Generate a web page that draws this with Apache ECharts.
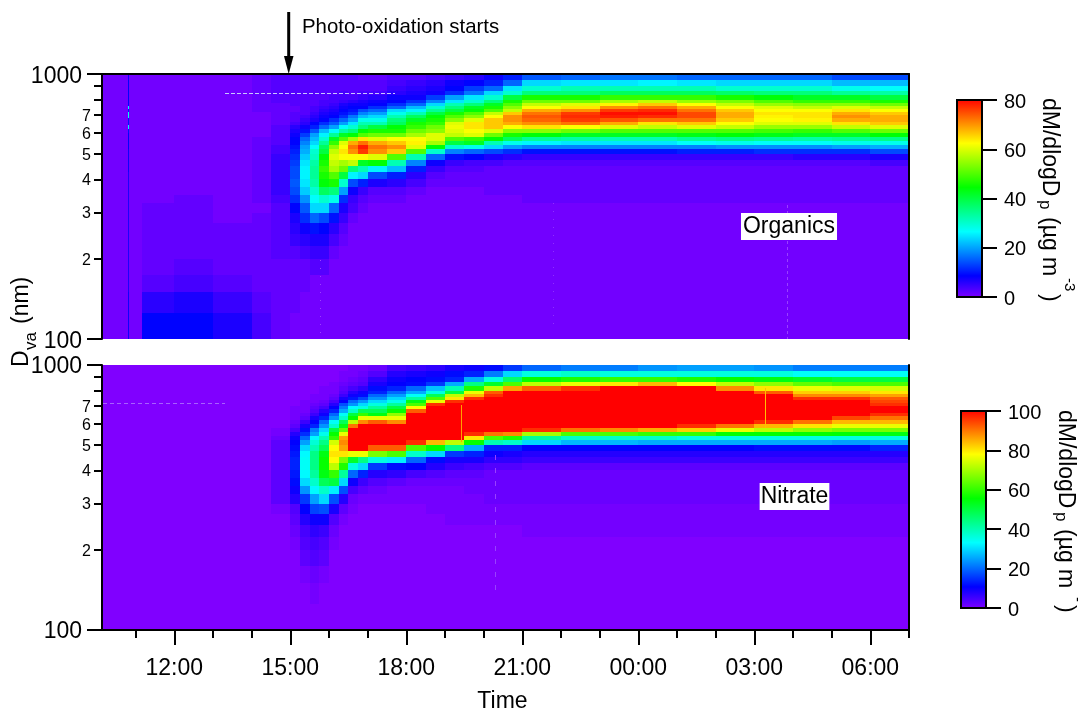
<!DOCTYPE html>
<html><head><meta charset="utf-8">
<style>html,body{margin:0;padding:0;background:#fff}#c{width:1082px;height:710px}</style>
<script src="https://cdn.jsdelivr.net/npm/echarts@6/dist/echarts.min.js"></script>
</head><body><div id="c"></div>
<script>
// Hours since midnight of the first day (24 = 00:00, 27 = 03:00 ...)
const timeEdges = [10.13,10.8,10.83,11.17,12,13,14,14.5,15,15.25,15.5,15.75,16,16.25,16.5,16.75,17,17.5,18,18.5,19,19.5,20,20.5,21,22,23,24,25,26,27,28,29,30,31];
// Vacuum aerodynamic diameter bin edges (nm)
const sizeEdges = [100,125,150,175,200,225,250,275,300,325,350,375,400,425,450,475,500,520,540,560,580,600,620,640,660,680,700,720,740,760,780,800,830,860,900,950,1000];
const majorTimeHours = [12,15,18,21,24,27,30];
const minorTimeHours = [11,13,14,16,17,19,20,22,23,25,26,28,29,31];
const timeLabels = ['12:00','15:00','18:00','21:00','00:00','03:00','06:00'];
const majorSizes = [100,1000];
const minorSizes = [200,300,400,500,600,700,800,900];
const minorSizeLabels = [200,300,400,500,600,700];
// One list per time column, bottom row (100 nm) to top row (1000 nm)
const organicsColumns = [
[1,1,1,1,1,1, 1,1,1,1,1,1, 1,1,1,1,1,1, 1,1,1,1,1,1, 1,1,1,1,1,1, 1,1,1,1,1,1],
[8,8,7,7,7,7, 7,7,7,7,7,7, 7,8,8,8,8,9, 9,9,9,10,26,10, 10,28,28,10,26,9, 9,9,9,9,9,8],
[1,1,1,1,1,1, 1,1,1,1,1,1, 1,1,1,1,1,1, 1,1,1,1,1,1, 1,1,1,1,1,1, 1,1,1,1,1,1],
[9,6,3,2,2,2, 2,2,2,1,1,1, 1,1,1,1,1,1, 1,1,1,1,1,1, 1,1,1,1,1,1, 1,1,1,1,1,1],
[9,7,4,3,2,2, 2,2,2,2,1,1, 1,1,1,1,1,1, 1,1,1,1,1,1, 1,1,1,1,1,1, 1,1,1,1,1,1],
[7,5,3,2,2,2, 2,1,1,1,1,1, 1,1,1,1,1,1, 1,1,1,1,1,1, 1,1,1,1,1,1, 1,1,1,1,1,1],
[4,3,2,2,2,2, 2,2,1,2,2,2, 2,2,2,2,2,2, 2,2,1,1,1,1, 1,1,1,2,2,2, 2,2,2,2,2,2],
[2,2,2,2,3,3, 3,3,3,4,5,5, 5,5,5,5,4,4, 3,3,3,3,3,2, 2,2,2,2,2,2, 3,3,3,3,3,3],
[1,2,2,2,3,5, 6,7,9,12,14,15, 14,14,13,12,11,10, 9,9,8,7,6,4, 3,3,3,2,2,3, 3,3,3,3,3,3],
[1,1,2,2,4,6, 8,12,15,19,23,25, 26,26,25,23,21,20, 18,16,13,10,8,6, 5,4,3,3,3,3, 3,3,3,3,3,3],
[1,1,1,3,5,7, 10,16,24,27,30,33, 34,34,33,31,30,27, 24,22,20,15,11,9, 7,6,5,4,4,3, 3,3,3,3,3,3],
[1,1,1,3,5,7, 9,14,24,30,38,44, 46,48,46,44,40,38, 34,30,26,22,16,12, 9,8,7,6,5,4, 4,3,3,3,3,3],
[1,1,1,1,2,4, 6,10,16,28,36,46, 50,56,58,60,58,54, 48,42,34,27,20,15, 12,9,8,7,6,5, 4,4,3,3,3,3],
[1,1,1,1,1,2, 3,5,7,12,20,30, 40,52,56,62,64,62, 60,50,42,33,27,20, 16,12,10,9,8,7, 5,4,4,3,3,3],
[1,1,1,1,1,1, 1,2,4,5,8,14, 26,36,58,62,70,72, 68,56,44,36,30,25, 20,17,12,10,9,8, 6,4,3,3,3,3],
[1,1,1,1,1,1, 1,1,2,3,5,11, 24,32,42,62,76,78, 72,64,50,44,36,32, 28,22,18,14,9,8, 7,5,4,3,3,2],
[1,1,1,1,1,1, 1,1,1,2,3,7, 14,26,44,60,70,72, 68,60,52,46,40,32, 28,24,20,16,12,9, 8,6,4,3,3,2],
[1,1,1,1,1,1, 1,1,1,2,3,6, 11,22,32,50,66,70, 66,62,52,46,44,38, 36,32,28,24,16,12, 9,8,6,5,4,3],
[1,1,1,1,1,1, 1,1,1,1,2,4, 6,11,18,32,50,60, 63,62,56,52,48,46, 42,38,32,26,22,16, 12,8,7,6,5,3],
[1,1,1,1,1,1, 1,1,1,1,1,2, 3,5,8,16,30,44, 56,60,60,54,52,48, 46,44,40,34,30,24, 18,13,8,7,6,4],
[1,1,1,1,1,1, 1,1,1,1,1,2, 2,3,5,10,18,30, 40,50,58,60,61,60, 54,50,46,40,36,32, 25,20,12,9,8,5],
[1,1,1,1,1,1, 1,1,1,1,1,2, 2,3,4,9,16,28, 42,48,60,62,64,64, 60,54,50,44,42,36, 30,25,17,13,9,6],
[1,1,1,1,1,1, 1,1,1,1,2,2, 2,2,4,7,14,24, 32,44,52,60,66,66, 66,62,58,50,46,42, 36,30,24,16,11,8],
[1,1,1,1,1,1, 1,1,1,1,2,2, 2,2,3,6,12,20, 28,38,46,54,62,68, 70,70,66,58,54,50, 46,40,30,25,16,11],
[1,1,1,1,1,1, 1,1,1,2,2,2, 2,2,3,5,10,18, 26,34,44,54,64,70, 73,74,72,68,62,58, 52,46,36,30,24,15],
[1,1,1,1,1,1, 1,1,1,2,2,2, 2,2,3,5,10,18, 25,33,42,52,62,72, 76,77,76,70,64,60, 52,46,36,32,25,16],
[1,1,1,1,1,1, 1,1,1,2,2,2, 2,2,3,5,10,18, 25,32,42,50,60,68, 74,78,79,76,70,63, 56,48,38,32,25,17],
[1,1,1,1,1,1, 1,1,1,2,2,2, 2,2,3,5,10,18, 25,32,42,50,58,64, 72,77,79,77,72,66, 58,48,38,32,26,17],
[1,1,1,1,1,1, 1,1,1,2,2,2, 2,2,3,5,11,18, 27,34,43,50,60,66, 72,75,75,72,68,62, 55,48,38,32,25,16],
[1,1,1,1,1,1, 1,1,1,2,2,2, 2,2,3,5,11,19, 28,35,44,50,58,62, 66,68,68,66,62,58, 53,46,37,30,24,16],
[1,1,1,1,1,1, 1,1,1,2,2,2, 2,2,3,5,12,19, 27,34,43,49,55,60, 62,63,64,62,60,55, 50,44,36,30,24,16],
[1,1,1,1,1,1, 1,1,1,2,2,2, 2,2,3,6,12,19, 27,33,42,48,55,60, 63,64,64,62,58,54, 48,42,36,30,24,16],
[1,1,1,1,1,1, 1,1,1,2,2,2, 2,2,3,6,12,20, 28,34,42,50,58,64, 68,70,68,64,60,54, 48,42,34,28,22,14],
[1,1,1,1,1,1, 1,1,1,2,2,2, 2,2,4,7,14,21, 28,35,44,52,60,66, 68,68,66,62,58,52, 46,40,33,27,22,14]
];
const nitrateColumns = [
[0,0,0,0,0,0, 0,0,0,0,0,0, 0,0,0,0,0,0, 0,0,0,0,0,0, 0,0,0,0,0,0, 0,0,0,0,0,0],
[0,0,0,0,0,0, 0,0,0,0,0,0, 0,0,0,0,0,0, 0,0,0,0,0,0, 0,0,0,0,0,0, 0,0,0,0,0,0],
[0,0,0,0,0,0, 0,0,0,0,0,0, 0,0,0,0,0,0, 0,0,0,0,0,0, 0,0,0,0,0,0, 0,0,0,0,0,0],
[0,0,0,0,0,0, 0,0,0,0,0,0, 0,0,0,0,0,0, 0,0,0,0,0,0, 0,0,0,0,0,0, 0,0,0,0,0,0],
[0,0,0,0,0,0, 0,0,0,0,0,0, 0,0,0,0,0,0, 0,0,0,0,0,0, 0,0,0,0,0,0, 0,0,0,0,0,0],
[0,0,0,0,0,0, 0,0,0,0,0,0, 0,0,0,0,0,0, 0,0,0,0,0,0, 0,0,0,0,0,0, 0,0,0,0,0,0],
[0,0,0,0,0,0, 0,0,0,0,0,0, 0,0,0,0,0,0, 0,0,0,0,0,0, 0,0,0,0,0,0, 0,0,0,0,0,0],
[0,0,0,0,0,0, 0,1,3,3,3,3, 3,3,3,3,3,2, 1,1,0,0,0,0, 0,0,0,0,0,0, 0,0,0,0,0,0],
[0,0,0,0,1,2, 3,4,8,10,12,13, 14,14,13,12,11,10, 8,5,3,2,1,1, 1,1,0,0,0,0, 0,0,0,0,0,0],
[0,0,1,3,4,5, 8,11,16,24,30,33, 34,34,33,30,25,20, 15,12,9,6,3,2, 1,1,1,1,0,0, 0,0,0,0,0,0],
[0,1,2,4,5,7, 10,17,25,33,38,42, 44,44,44,40,37,33, 25,22,14,11,9,6, 4,3,2,1,1,1, 0,0,0,0,0,0],
[0,0,1,3,4,6, 10,18,30,38,48,54, 56,56,54,48,44,40, 35,30,24,20,14,10, 8,5,3,2,1,1, 1,1,0,0,0,0],
[0,0,0,0,1,2, 4,9,18,32,50,60, 72,78,80,78,74,60, 56,50,38,34,24,20, 14,11,8,5,3,2, 1,1,1,0,0,0],
[0,0,0,0,0,0, 1,3,8,18,30,42, 58,66,80,86,88,86, 76,64,54,48,38,34, 26,22,18,11,9,6, 4,3,2,1,1,0],
[0,0,0,0,0,0, 0,1,2,5,10,20, 36,52,76,100,100,100, 100,100,90,72,56,50, 38,33,24,20,13,10, 8,5,3,2,1,1],
[0,0,0,0,0,0, 0,0,1,3,6,14, 30,44,76,100,100,100, 100,100,100,88,76,60, 48,36,30,24,17,12, 10,7,4,3,2,1],
[0,0,0,0,0,0, 0,0,1,2,4,8, 16,36,66,92,100,100, 100,100,100,92,76,54, 48,42,36,30,24,20, 14,12,9,7,4,2],
[0,0,0,0,0,0, 0,0,1,1,3,7, 12,32,62,92,100,100, 100,100,100,88,76,68, 56,50,42,35,30,25, 20,14,11,10,8,5],
[0,0,0,0,0,0, 0,0,1,1,2,5, 11,20,38,62,96,100, 100,100,100,100,100,100, 92,78,62,54,42,34, 26,20,12,11,9,6],
[0,0,0,0,0,0, 0,1,1,1,2,4, 8,12,30,56,84,100, 100,100,100,100,100,100, 100,100,96,76,62,48, 36,28,16,12,10,7],
[0,0,0,0,0,0, 1,1,1,1,2,3, 6,9,16,44,72,100, 100,100,100,100,100,100, 100,100,100,96,80,72, 50,40,26,14,12,9],
[0,0,0,0,0,0, 1,1,1,2,2,3, 5,9,14,26,56,80, 96,100,100,100,100,100, 100,100,100,100,96,84, 76,58,44,26,14,10],
[0,0,0,0,0,0, 1,1,2,2,2,2, 4,7,10,14,40,62, 90,100,100,100,100,100, 100,100,100,100,100,96, 92,72,52,36,22,12],
[0,0,0,0,0,0, 1,1,2,2,2,2, 4,7,9,14,38,58, 88,100,100,100,100,100, 100,100,100,100,100,100, 100,86,62,46,30,16],
[0,0,0,0,0,1, 1,1,2,2,2,2, 3,6,8,11,30,42, 70,96,100,100,100,100, 100,100,100,100,100,100, 100,92,72,56,36,20],
[0,0,0,0,0,1, 1,1,2,2,2,2, 3,6,8,11,27,38, 62,90,100,100,100,100, 100,100,100,100,100,100, 100,96,76,58,38,22],
[0,0,0,0,0,1, 1,1,2,2,2,2, 3,6,8,11,27,38, 62,88,100,100,100,100, 100,100,100,100,100,100, 100,100,80,60,36,22],
[0,0,0,0,0,1, 1,1,2,2,2,2, 3,6,8,11,26,38, 60,85,100,100,100,100, 100,100,100,100,100,100, 100,100,84,60,36,24],
[0,0,0,0,0,1, 1,1,2,2,2,2, 3,6,8,11,26,36, 60,82,96,100,100,100, 100,100,100,100,100,100, 100,100,78,58,36,25],
[0,0,0,0,0,1, 1,1,2,2,2,2, 3,6,8,11,26,36, 56,76,90,100,100,100, 100,100,100,100,100,100, 100,88,72,56,36,25],
[0,0,0,0,0,1, 1,1,2,2,2,2, 3,6,8,12,26,36, 56,72,84,96,100,100, 100,100,100,100,100,100, 92,80,68,54,36,24],
[0,0,0,0,0,1, 1,1,2,2,2,2, 3,6,8,12,26,36, 56,68,80,90,100,100, 100,100,100,100,96,88, 82,76,64,52,34,22],
[0,0,0,0,0,1, 1,1,2,2,2,2, 3,6,8,12,25,36, 55,66,76,84,94,100, 100,100,100,100,96,88, 82,75,62,50,34,22],
[0,0,0,0,0,1, 1,1,2,2,2,2, 3,6,8,14,26,36, 54,66,76,84,90,96, 100,100,96,94,92,86, 80,74,62,50,34,22]
];
const rainbow = ['#8000ff','#0000ff','#0080ff','#00ffff','#00ff80','#00ff00','#80ff00','#ffff00','#ff8000','#ff0000'];
const organicsMax = 80, nitrateMax = 100;
const FONT = '"Liberation Sans", Arial, sans-serif';

function cells(columns){
  const out = [];
  columns.forEach((col,t)=>col.forEach((v,r)=>out.push([timeEdges[t],timeEdges[t+1],sizeEdges[r],sizeEdges[r+1],v])));
  return out;
}
function renderCell(params, api){
  const a = api.coord([api.value(0), api.value(3)]);
  const b = api.coord([api.value(1), api.value(2)]);
  const x0 = Math.round(a[0]), x1 = Math.max(Math.round(b[0]), x0+1);
  const y0 = Math.round(a[1]), y1 = Math.round(b[1]);
  return {type:'rect', shape:{x:x0,y:y0,width:x1-x0,height:y1-y0}, style:{fill:api.visual('color')}};
}
function renderBar(params, api){
  const a = api.coord([0, api.value(1)]);
  const b = api.coord([1, api.value(0)]);
  return {type:'rect', shape:{x:a[0],y:a[1],width:b[0]-a[0],height:b[1]-a[1]},
    style:{stroke:'#000',lineWidth:2,fill:new echarts.graphic.LinearGradient(0,1,0,0,
      rainbow.map((c,i)=>({offset:i/(rainbow.length-1),color:c})))}};
}
const line = {show:true,onZero:false,lineStyle:{color:'#000',width:2}};
const noLabel = {show:false}, noTick = {show:false};
function xAxisBase(grid){ return {type:'value',gridIndex:grid,min:10.13,max:31,z:5,splitLine:{show:false},axisLine:line,axisTick:noTick,axisLabel:noLabel}; }
function yAxisSet(grid){
  const base = {type:'log',logBase:10,gridIndex:grid,min:100,max:1000,z:5,splitLine:{show:false},minorTick:{show:false},minorSplitLine:{show:false}};
  return [
    Object.assign({},base,{position:'left',axisLine:line,
      axisTick:{show:true,length:15,inside:false,lineStyle:{color:'#000',width:2},customValues:majorSizes},
      axisLabel:{show:true,margin:20,verticalAlign:'top',lineHeight:grid===0?6:4,color:'#000',fontSize:23,fontFamily:FONT,customValues:majorSizes,formatter:v=>String(Math.round(v))}}),
    Object.assign({},base,{position:'left',axisLine:{show:false,onZero:false},
      axisTick:{show:true,length:8,lineStyle:{color:'#000',width:2},customValues:minorSizes},
      axisLabel:{show:true,margin:11,verticalAlign:'top',lineHeight:3,color:'#000',fontSize:16,fontFamily:FONT,customValues:minorSizeLabels,formatter:v=>String(Math.round(v/100))}}),
    Object.assign({},base,{position:'right',axisLine:line,axisTick:noTick,axisLabel:noLabel})
  ];
}
function cbAxis(grid,max){
  return {type:'value',gridIndex:grid,position:'right',min:0,max:max,interval:20,z:5,splitLine:{show:false},axisLine:{show:false,onZero:false},
    axisTick:{show:true,inside:false,length:15,lineStyle:{color:'#000',width:2}},
    axisLabel:{show:true,margin:22,verticalAlign:'top',lineHeight:4,color:'#000',fontSize:20,fontFamily:FONT}};
}
// Rotated text placed by its baseline; dir=1 reads upward, dir=-1 reads downward
function vtext(str,baseX,y,size,dir){
  return {type:'text',x:baseX-dir*0.34*size,y:y,rotation:dir*Math.PI/2,z:20,
    style:{text:str,font:size+'px '+FONT,fill:'#000',textAlign:'left',textVerticalAlign:'middle'}};
}
function streak(x1,y1,x2,y2,color,dash){
  return {type:'line',z:10,silent:true,shape:{x1,y1,x2,y2},style:{stroke:color,lineWidth:1,lineDash:dash||null}};
}
const gridBase = {outerBoundsMode:'none',containLabel:false};
const option = {
  animation:false,
  backgroundColor:'#fff',
  grid:[
    Object.assign({left:102,top:74,width:807,height:265},gridBase),
    Object.assign({left:102,top:365,width:807,height:265},gridBase),
    Object.assign({left:957,top:100,width:25,height:197},gridBase),
    Object.assign({left:961,top:411,width:25,height:197},gridBase)
  ],
  xAxis:[
    Object.assign(xAxisBase(0),{position:'top'}),
    Object.assign(xAxisBase(1),{position:'bottom',name:'Time',nameLocation:'middle',nameGap:60,
      nameTextStyle:{color:'#000',fontSize:23,fontFamily:FONT,padding:[0,6,0,0]},
      axisTick:{show:true,length:15,lineStyle:{color:'#000',width:2},customValues:majorTimeHours},
      axisLabel:{show:true,margin:27,color:'#000',fontSize:23,fontFamily:FONT,customValues:majorTimeHours,
        formatter:v=>timeLabels[majorTimeHours.indexOf(v)]}}),
    Object.assign(xAxisBase(1),{position:'bottom',axisLine:{show:false,onZero:false},
      axisTick:{show:true,length:8,lineStyle:{color:'#000',width:2},customValues:minorTimeHours}}),
    {type:'value',gridIndex:2,min:0,max:1,show:false},
    {type:'value',gridIndex:3,min:0,max:1,show:false}
  ],
  yAxis:[].concat(yAxisSet(0),yAxisSet(1),[cbAxis(2,organicsMax),cbAxis(3,nitrateMax)]),
  visualMap:[
    {show:false,type:'continuous',seriesIndex:0,dimension:4,min:0,max:organicsMax,inRange:{color:rainbow}},
    {show:false,type:'continuous',seriesIndex:1,dimension:4,min:0,max:nitrateMax,inRange:{color:rainbow}}
  ],
  series:[
    {name:'Organics',type:'custom',xAxisIndex:0,yAxisIndex:0,z:1,clip:true,silent:true,encode:{x:[0,1],y:[2,3]},renderItem:renderCell,data:cells(organicsColumns)},
    {name:'Nitrate',type:'custom',xAxisIndex:1,yAxisIndex:3,z:1,clip:true,silent:true,encode:{x:[0,1],y:[2,3]},renderItem:renderCell,data:cells(nitrateColumns)},
    {name:'Organics scale',type:'custom',xAxisIndex:3,yAxisIndex:6,z:2,silent:true,clip:false,encode:{y:[0,1]},renderItem:renderBar,data:[[0,organicsMax]]},
    {name:'Nitrate scale',type:'custom',xAxisIndex:4,yAxisIndex:7,z:2,silent:true,clip:false,encode:{y:[0,1]},renderItem:renderBar,data:[[0,nitrateMax]]}
  ],
  graphic:[
    streak(225,93.5,395,93.5,'#c8c8ff',[4,2]),
    streak(103,403.5,225,403.5,'#a860ff',[4,3]),
    streak(320.5,260,320.5,333,'#9a40ff',[1,7]),
    streak(553.5,203,553.5,327,'#9030ff',[1,7]),
    streak(787.5,205,787.5,339,'#9a40ff',[3,3]),
    streak(495.5,455,495.5,592,'#9a40ff',[5,8]),
    streak(461.5,405,461.5,442,'#ffa000'),
    streak(765.5,388,765.5,428,'#ffc000'),
    {type:'line',z:20,shape:{x1:288.7,y1:12,x2:288.7,y2:58},style:{stroke:'#000',lineWidth:3}},
    {type:'polygon',z:20,shape:{points:[[284,56],[293.5,56],[288.7,74]]},style:{fill:'#000'}},
    {type:'text',x:302,y:27,z:20,style:{text:'Photo-oxidation starts',font:'20.4px '+FONT,fill:'#000',textAlign:'left',textVerticalAlign:'middle'}},
    {type:'text',x:789,y:226.5,z:20,style:{text:'Organics',font:'23px '+FONT,fill:'#000',backgroundColor:'#fff',padding:[2,2],textAlign:'center',textVerticalAlign:'middle'}},
    {type:'text',x:794.5,y:496.5,z:20,style:{text:'Nitrate',font:'23px '+FONT,fill:'#000',backgroundColor:'#fff',padding:[2,1],textAlign:'center',textVerticalAlign:'middle'}},
    vtext('D',29.5,367,23,1), vtext('va',37,350,17,1), vtext('(nm)',29.5,324,23,1),
    vtext('dM/dlogD',1042,98,23,-1), vtext('p',1039,200,17,-1), vtext('(µg m',1042,217,23,-1), vtext('-3',1064,278,15,-1), vtext(')',1042,294,23,-1),
    vtext('dM/dlogD',1058,410,23,-1), vtext('p',1055,512,17,-1), vtext('(µg m',1058,529,23,-1), vtext('-',1072,597,15,-1), vtext(')',1058,605,23,-1)
  ]
};
const chart = echarts.init(document.getElementById('c'),null,{renderer:'canvas'});
chart.setOption(option);
</script></body></html>
